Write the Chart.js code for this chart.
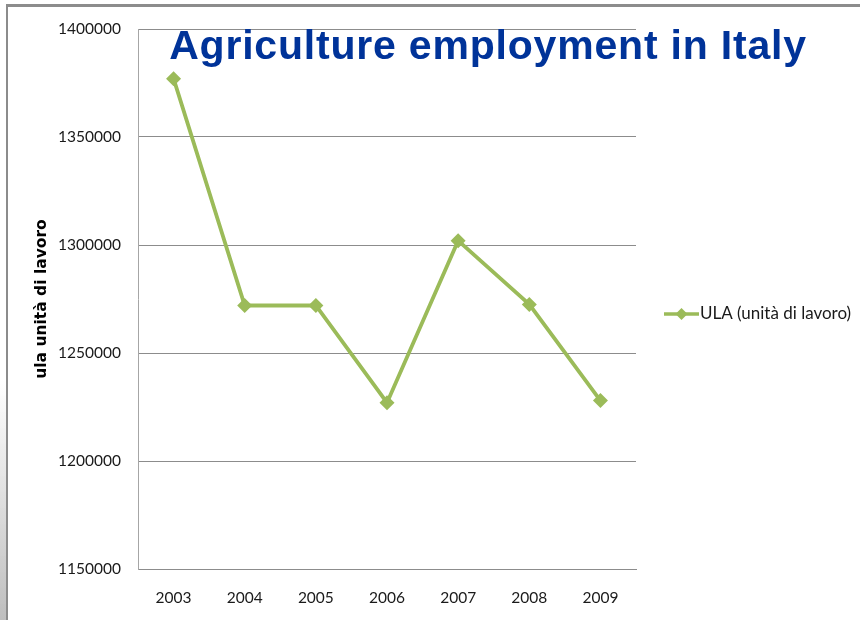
<!DOCTYPE html>
<html>
<head>
<meta charset="utf-8">
<script src="https://cdn.jsdelivr.net/npm/chart.js@4/dist/chart.umd.min.js"></script>
<style>
  html, body { margin: 0; padding: 0; background: #ffffff; }
  #wrap { position: relative; width: 860px; height: 620px; overflow: hidden; background: #fff; }
  #frame { position: absolute; left: 6px; top: 4px; right: -10px; bottom: -10px;
           border-left: 2px solid #8c8c8c; border-top: 3px solid #8c8c8c; }
  #strip { position: absolute; left: 0; top: 380px; width: 6px; height: 240px;
           background: linear-gradient(to bottom, rgba(200,200,200,0), rgba(190,190,190,1)); }
  #title { position: absolute; left: 0; top: 19px; width: 976px; text-align: center;
           font-family: "Liberation Sans", Arial, sans-serif; font-weight: bold;
           font-size: 41px; letter-spacing: 0.8px; color: #003399; white-space: nowrap; line-height: 52px; }
  canvas { position: absolute; left: 0; top: 0; }
</style>
</head>
<body>
<div id="wrap">
  <canvas id="c" width="860" height="620"></canvas>
  <div id="frame"></div>
  <div id="strip"></div>
  <div id="title">Agriculture employment in Italy</div>
</div>
<script>
const years = ["2003", "2004", "2005", "2006", "2007", "2008", "2009"];
const ulaValues = [1377000, 1272000, 1272000, 1227000, 1302000, 1272500, 1228000];
const seriesName = "ULA (unità di lavoro)";
const yAxisTitle = "ula unità di lavoro";
const yMin = 1150000, yMax = 1400000, yStep = 50000;

const green = "#9bbb59";
const tickFont = { family: "Lato, 'Open Sans', sans-serif", size: 15.5 };

const legendPlugin = {
  id: "sideLegend",
  afterDraw(chart) {
    const ctx = chart.ctx;
    const x0 = 664, x1 = 699, y = 314;
    ctx.save();
    ctx.strokeStyle = green;
    ctx.lineWidth = 3.5;
    ctx.beginPath(); ctx.moveTo(x0, y); ctx.lineTo(x1, y); ctx.stroke();
    const cx = (x0 + x1) / 2, r = 6;
    ctx.fillStyle = green;
    ctx.beginPath();
    ctx.moveTo(cx, y - r); ctx.lineTo(cx + r, y); ctx.lineTo(cx, y + r); ctx.lineTo(cx - r, y);
    ctx.closePath(); ctx.fill();
    ctx.fillStyle = "#1a1a1a";
    ctx.font = "17px Lato, 'Open Sans', sans-serif";
    ctx.textBaseline = "middle";
    ctx.textAlign = "left";
    ctx.fillText(seriesName, 700, y);
    ctx.restore();
  }
};

new Chart(document.getElementById("c"), {
  type: "line",
  data: {
    labels: years,
    datasets: [{
      label: seriesName,
      data: ulaValues,
      borderColor: green,
      backgroundColor: green,
      borderWidth: 3.8,
      pointStyle: "rectRot",
      pointRadius: 7.5,
      pointHoverRadius: 7.5,
      pointBackgroundColor: green,
      pointBorderColor: green,
      pointBorderWidth: 0,
      tension: 0,
      fill: false
    }]
  },
  options: {
    responsive: false,
    animation: false,
    devicePixelRatio: 1,
    layout: { padding: { left: 33, right: 224, top: 29, bottom: 0 } },
    plugins: {
      legend: { display: false },
      tooltip: { enabled: false },
      title: { display: false }
    },
    scales: {
      x: {
        offset: true,
        grid: { display: false, drawTicks: false },
        border: { display: true, color: "#8c8c8c", width: 1 },
        ticks: { font: tickFont, color: "#1a1a1a", padding: 20, maxRotation: 0 },
        afterFit(scale) { scale.height = 51; }
      },
      y: {
        min: yMin,
        max: yMax,
        ticks: { stepSize: yStep, font: tickFont, color: "#1a1a1a", padding: 17,
                 callback: (v) => String(v) },
        grid: { color: "#8c8c8c", lineWidth: 1, drawTicks: false },
        border: { display: true, color: "#a6a6a6", width: 1 },
        title: {
          display: true,
          text: yAxisTitle,
          font: { family: "'DejaVu Sans', sans-serif", size: 15.5, weight: "bold" },
          color: "#000",
          padding: { top: 0, bottom: 0 }
        },
        afterFit(scale) { scale.width = 105; }
      }
    }
  },
  plugins: [legendPlugin]
});
</script>
</body>
</html>
